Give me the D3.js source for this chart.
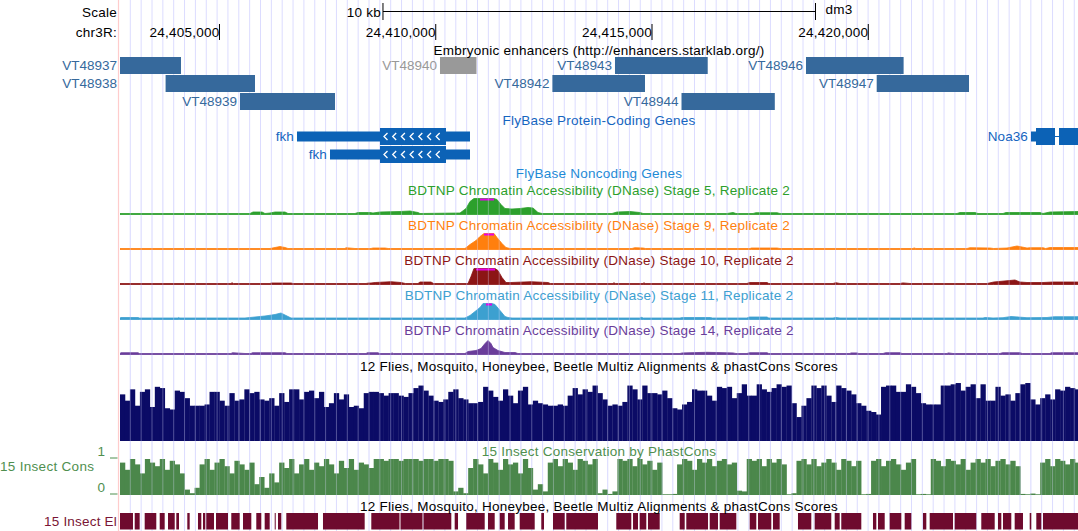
<!DOCTYPE html>
<html><head><meta charset="utf-8">
<script src="https://cdn.jsdelivr.net/npm/d3@7"></script>
<style>
html,body{margin:0;padding:0;background:#fff;}
svg{display:block;font-family:"Liberation Sans",Arial,Helvetica,sans-serif;}
</style></head><body>
<svg id="chart" width="1078" height="531"></svg>
<script>
// ---- genome window ----
const viewStart = 24402700, viewEnd = 24424849;
const chromName = "chr3R:";
const assembly = "dm3";
const rulerTicks = [24405000, 24410000, 24415000, 24420000];
const scaleBarRange = [24408780, 24418780];
const scaleBarLabel = "10 kb";

// ---- Embryonic enhancers (starklab) ----
const enhancerNames = ["VT48937","VT48938","VT48939","VT48940","VT48942","VT48943","VT48944","VT48946","VT48947"];
const enhancerStart = [24402500, 24403754, 24405474, 24410098, 24412697, 24414144, 24415682, 24418560, 24420195];
const enhancerEnd   = [24404110, 24405821, 24407671, 24410942, 24414838, 24416288, 24417839, 24420817, 24422329];
const enhancerRow   = [0, 1, 2, 0, 1, 0, 2, 0, 1];
const enhancerDim   = [false, false, false, true, false, false, false, false, false];

// ---- FlyBase protein-coding transcripts ----
const geneNames   = ["fkh", "fkh", "Noa36"];
const geneRow     = [0, 1, 0];
const geneTxStart = [24406792, 24407555, 24423762];
const geneTxEnd   = [24410792, 24410792, 24425100];
const geneCdsStart= [24408711, 24408711, 24423878];
const geneCdsEnd  = [24410237, 24410237, 24425100];
const geneExons   = [[[24406792, 24410792]], [[24407555, 24410792]], [[24423762, 24424317], [24424410, 24425100]]];
const geneStrand  = ["-", "-", "+"];

// ---- BDTNP DNase accessibility, [position, signal] ----
const dnaseTitles = [
  "BDTNP Chromatin Accessibility (DNase) Stage 5, Replicate 2",
  "BDTNP Chromatin Accessibility (DNase) Stage 9, Replicate 2",
  "BDTNP Chromatin Accessibility (DNase) Stage 10, Replicate 2",
  "BDTNP Chromatin Accessibility (DNase) Stage 11, Replicate 2",
  "BDTNP Chromatin Accessibility (DNase) Stage 14, Replicate 2"];
const dnaseColors = ["#2ca02c", "#ff7f0e", "#8c1515", "#3ca0d0", "#6a3d9a"];
const dnaseStage5 = [[24402700,1],[24405706,1],[24405775,2.5],[24405983,2.5],[24406052,1],[24406168,1.5],[24406284,2.5],[24406515,2.5],[24406584,1],[24408133,1],[24408203,2],[24408480,2],[24408549,1.5],[24408711,2.5],[24409174,3],[24409405,3.5],[24409590,2],[24409636,1],[24410561,1.5],[24410700,6],[24410792,13],[24410884,16],[24411023,17],[24411347,17],[24411416,15],[24411509,10],[24411601,6],[24411763,5.5],[24411948,6],[24412133,7],[24412249,6.5],[24412364,2],[24412457,1],[24414075,1],[24414191,2.5],[24414491,3],[24414722,2],[24414792,1],[24416734,1],[24416873,2],[24416942,1],[24417335,1],[24417404,1.8],[24417890,1.8],[24417959,1],[24422051,1],[24422121,2],[24422467,2],[24422537,1],[24423115,1],[24423185,2],[24423970,2],[24424040,1],[24424202,2.5],[24424849,3]];
const dnaseStage9 = [[24402700,1],[24406168,1],[24406284,2],[24406399,3],[24406515,2],[24406584,1],[24407902,1],[24407925,1.8],[24408133,1],[24408503,1],[24408549,1.5],[24408827,1.5],[24408900,1],[24410676,1],[24410792,5],[24410931,9],[24411023,13],[24411116,17],[24411347,17],[24411416,12],[24411532,6],[24411624,2],[24411717,1],[24414537,1],[24414600,1.8],[24414792,1.5],[24414850,1],[24417266,1],[24417300,1.5],[24417890,1.5],[24417959,1],[24421034,1],[24421060,1.6],[24421100,1],[24422282,1],[24422350,1.8],[24422814,1.5],[24422900,1],[24423208,1.5],[24423439,3.5],[24423670,1.5],[24423739,1.8],[24424040,1.8],[24424100,1],[24424202,2],[24424849,2]];
const dnaseStage10 = [[24402700,1],[24405266,1],[24405290,1.8],[24405320,1],[24406168,1],[24406200,1.5],[24406654,1.5],[24406700,1],[24408388,1],[24408450,1.5],[24408503,1.5],[24408600,2],[24408966,2.8],[24409197,2],[24409300,1],[24409590,1],[24409636,2.5],[24409890,2.5],[24409950,1],[24410746,1],[24410815,8],[24410884,16],[24410931,18],[24411370,18],[24411439,14],[24411532,7],[24411624,2],[24411740,2],[24412203,2.8],[24412595,2],[24412650,1],[24414098,1],[24414120,1.8],[24414150,1],[24414792,1],[24414810,1.8],[24414840,1],[24417196,1],[24417250,2],[24417659,2],[24417700,1],[24419185,1],[24419250,1.8],[24419346,1],[24420734,1],[24420800,1.6],[24420965,1],[24422745,1],[24422900,2.5],[24423392,4.5],[24423508,2.5],[24423670,2],[24423808,2],[24424040,2],[24424271,2.5],[24424849,2.5]];
const dnaseStage11 = [[24402700,1.5],[24402723,2],[24403116,2],[24403150,1.5],[24404041,1.5],[24404060,2],[24404080,1.5],[24405590,1.5],[24405821,2.5],[24406052,3.5],[24406284,5],[24406422,6.5],[24406538,4],[24406654,1.5],[24410676,1.5],[24410792,4],[24410908,8],[24411023,12],[24411093,16],[24411162,17],[24411300,17],[24411370,15],[24411486,9],[24411601,3],[24411671,2],[24411763,1.5],[24414722,1.5],[24414750,2.2],[24414800,1.5],[24415647,1.5],[24415700,2],[24416341,2],[24416400,1.5],[24417196,1.5],[24417250,2.5],[24417659,2.5],[24417700,1.5],[24419185,1.5],[24419250,2],[24419346,1.5],[24422653,1.5],[24422700,2],[24422884,1.5],[24423115,1.8],[24423300,3],[24423670,1.8],[24424132,2],[24424300,2.8],[24424849,2.8]];
const dnaseStage14 = [[24402700,1],[24402723,1.8],[24403116,1.8],[24403150,1],[24405266,1],[24405300,1.8],[24405590,1],[24405729,1],[24405760,1.8],[24406515,1.8],[24406560,1],[24408388,1],[24408420,1.8],[24408665,1.8],[24408700,1],[24408966,1],[24408990,1.6],[24409020,1],[24410676,1],[24410746,3],[24410931,4],[24411046,6],[24411139,11],[24411208,14],[24411277,11],[24411324,7],[24411439,4],[24411601,2],[24411833,2],[24411900,1],[24415647,1],[24415700,1.6],[24416271,2.2],[24416873,1.6],[24416942,1],[24417196,1],[24417250,1.8],[24417659,1.8],[24417700,1],[24419578,1],[24419600,1.6],[24419740,1.6],[24419780,1],[24420341,1],[24420400,1.8],[24420734,1.8],[24420780,1],[24421820,1],[24421850,1.6],[24421959,1],[24423046,1],[24423100,1.8],[24423508,1.8],[24423560,1],[24424202,1],[24424230,1.8],[24424849,1.8]];
const dnaseMax = 16;

// ---- conservation: per-bin scores (bin = 115 bp from viewStart) ----
const consBin = 115;
const multizScores = [
 .74,.64,.82,.56,.78,.82,.54,.86,.84,.52, .50,.80,.78,.68,.56,.56,.56,.58,.78,.78,
 .64,.56,.76,.64,.66,.82,.76,.78,.66,.64, .68,.56,.76,.62,.82,.82,.66,.78,.80,.68,
 .78,.54,.60,.76,.66,.74,.54,.56,.52,.76, .78,.78,.76,.72,.76,.76,.72,.70,.76,.84,
 .88,.80,.72,.64,.62,.66,.78,.82,.68,.66, .60,.60,.62,.86,.80,.70,.64,.82,.72,.60,
 .80,.86,.58,.64,.60,.58,.56,.56,.58,.56, .72,.84,.74,.82,.78,.88,.76,.66,
 .56,.58,.56,.62,.88,.82,.66,.88,.76,.76, .74,.80,.68,.52,.50,.58,.62,.82,.80,.80,
 .72,.64,.86,.84,.86,.68,.76,.90,.72,.72, .90,.82,.78,.84,.90,.86,.88,.60,.38,.56,
 .68,.88,.84,.88,.72,.62,.88,.84,.80,.74, .60,.56,.48,.46,.42,.86,.88,.88,.78,.78,
 .90,.86,.76,.60,.58,.58,.58,.88,.88,.90, .92,.80,.86,.90,.68,.90,.64,.64,.86,.72,
 .74,.64,.76,.90,.92,.66,.58,.68,.74,.66, .82,.80,.86,.84,.82,.86];
const phastConsScores = [
 .9,.7,1,.85,.6,1,.9,.8,1,.7,.95,.85,.6,
 .15,.05,.2,
 .85,1,.7,.9,1,.8,.6,.95,.85,.7,.9,
 .3,.5,.2,.6,.35,
 .9,.75,1,.6,.85,1,.7,.9,.8,1,.85,.6,.95,.75,1,.7,.9,.85,.75,
 1,1,.95,1,1,.95,1,1,1,.95,1,1,.95,1,1,.95,
 .1,.2,.05,
 .75,1,.85,.6,1,.9,.7,1,.85,.9,.6,1,.75,
 .15,.3,.1,
 .9,1,.8,1,.9,.7,1,.95,.85,1,
 .05,.15,.03,.1,
 1,.95,1,.8,1,.85,.95,.7,.9,
 .02,.02,.03,
 .85,1,.95,.7,1,.9,1,.8,.95,1,.85,.9,
 .12,.1,
 1,.95,1,.8,1,.9,1,.85,
 .02,.05,
 .95,1,.85,1,.8,.9,1,.9,.7,1,.95,.8,.95,
 .02,.03,
 .95,1,.8,.95,1,.85,.7,.9,1,
 .02,.03,.02,
 1,.95,.8,1,.95,.85,1,.7,.9,1,.9,1,.8,.95,1,.85,.95,.8,
 .03,.02,.04,.02,
 .9,1,.8,1,.95,.85,1,.9,1];
const phastConsTicks = [0, 1];

// ---- 15 insect conserved elements [start, end] ----
const consElements = [[24402600,24403000],[24403040,24403155],[24403271,24403539],[24403618,24403733],[24403810,24403965],[24404002,24404064],[24404256,24404311],[24404503,24404580],[24404619,24404672],[24404695,24404873],[24404920,24405197],[24405273,24405467],[24405544,24405736],[24405851,24405967],[24406045,24406161],[24406277,24406291],[24406353,24406429],[24406545,24407278],[24407393,24408357],[24408510,24409162],[24409185,24409694],[24409717,24410360],[24410438,24410515],[24410706,24411132],[24411208,24411363],[24411479,24411594],[24411671,24411825],[24411941,24412288],[24412440,24412503],[24412711,24412981],[24413018,24413751],[24414174,24414521],[24414561,24414676],[24414715,24414868],[24414907,24415178],[24415640,24415756],[24415793,24416295],[24416334,24416526],[24416565,24416949],[24417259,24417411],[24417451,24417758],[24417797,24417952],[24418375,24418683],[24418761,24419145],[24419224,24419339],[24419376,24419839],[24420109,24420186],[24420225,24420380],[24420495,24420764],[24420842,24420995],[24421265,24421342],[24421420,24421959],[24421998,24422498],[24422613,24422923],[24422999,24423076],[24423115,24423307],[24423385,24423577],[24423732,24423769],[24423885,24424000],[24424040,24425000]];

// ================= drawing =================
const W = 1078, H = 531, dataLeft = 120;
const svg = d3.select("#chart");
const x = d3.scaleLinear().domain([viewStart, viewEnd]).range([dataLeft, W]);
const FS = 13.5;

svg.append("defs").append("clipPath").attr("id", "dataClip")
  .append("rect").attr("x", dataLeft).attr("y", 0).attr("width", W - dataLeft).attr("height", H);

// guidelines
const guideXs = [];
for (let gx = 130.3; gx < W; gx += 10.85) guideXs.push(gx);
svg.append("g").selectAll("line").data(guideXs).join("line")
  .attr("x1", d => d).attr("x2", d => d).attr("y1", 0).attr("y2", H)
  .attr("stroke", "#dcdcff").attr("stroke-width", 1);
svg.append("line").attr("x1", 118.5).attr("x2", 118.5).attr("y1", 0).attr("y2", H)
  .attr("stroke", "#ffcccc").attr("stroke-width", 1.2);

const data = svg.append("g").attr("clip-path", "url(#dataClip)");
const text = (sel, s, tx, ty, anchor, color, spacing) =>
  sel.append("text").attr("x", tx).attr("y", ty).attr("text-anchor", anchor || "start")
     .attr("fill", color || "#000").attr("font-size", FS)
     .attr("letter-spacing", spacing == null ? 0.25 : spacing).text(s);

// ---- scale bar and base position ruler ----
text(svg, "Scale", 117, 17, "end");
text(svg, chromName, 117, 37, "end");
const sb0 = x(scaleBarRange[0]), sb1 = x(scaleBarRange[1]);
svg.append("line").attr("x1", sb0).attr("x2", sb1).attr("y1", 11.5).attr("y2", 11.5).attr("stroke", "#000");
[sb0, sb1].forEach(v => svg.append("line").attr("x1", v).attr("x2", v).attr("y1", 3).attr("y2", 20).attr("stroke", "#000"));
text(svg, scaleBarLabel, sb0 - 2, 17, "end");
text(svg, assembly, sb1 + 10, 14, "start");
const fmt = d3.format(",");
rulerTicks.forEach(t => {
  const tx = x(t);
  svg.append("line").attr("x1", tx).attr("x2", tx).attr("y1", 24).attr("y2", 40).attr("stroke", "#000");
  text(svg, fmt(t), tx, 37, "end");
});

// ---- enhancers ----
const midX = 599;
text(svg, "Embryonic enhancers (http://enhancers.starklab.org/)", midX, 54.5, "middle");
const enhBlue = "#36699c", enhGray = "#999999";
enhancerNames.forEach((name, i) => {
  const x0 = Math.max(dataLeft, x(enhancerStart[i])), x1 = x(enhancerEnd[i]);
  const top = 57 + enhancerRow[i] * 18;
  const col = enhancerDim[i] ? enhGray : enhBlue;
  data.append("rect").attr("x", x0).attr("y", top).attr("width", x1 - x0).attr("height", 17).attr("fill", col);
  let lx = x0 - 3;
  if (lx - 56 < dataLeft) lx = 117;
  text(svg, name, lx, top + 13, "end", col, 0);
});

// ---- genes ----
const geneBlue = "#0c62b6";
text(svg, "FlyBase Protein-Coding Genes", midX, 124.5, "middle", "#1565c0");
geneNames.forEach((name, i) => {
  const cy = 136.5 + geneRow[i] * 18;
  const txs = x(geneTxStart[i]);
  geneExons[i].forEach(([s, e]) => {
    data.append("rect").attr("x", x(s)).attr("y", cy - 5).attr("width", x(e) - x(s)).attr("height", 10).attr("fill", geneBlue);
    const cs = Math.max(s, geneCdsStart[i]), ce = Math.min(e, geneCdsEnd[i]);
    if (ce > cs) {
      data.append("rect").attr("x", x(cs)).attr("y", cy - 8.5).attr("width", x(ce) - x(cs)).attr("height", 17).attr("fill", geneBlue);
      const w = x(ce) - x(cs);
      if (w > 30) {
        for (let ax = x(cs) + 3.5; ax < x(ce) - 5; ax += 8.7) {
          const d = geneStrand[i] === "-" ? `M${ax + 4},${cy - 3.5}L${ax + 0.5},${cy}L${ax + 4},${cy + 3.5}`
                                          : `M${ax},${cy - 3.5}L${ax + 3.5},${cy}L${ax},${cy + 3.5}`;
          data.append("path").attr("d", d).attr("fill", "none").attr("stroke", "#fff").attr("stroke-width", 1.3);
        }
      }
    }
  });
  for (let k = 1; k < geneExons[i].length; k++) {
    data.append("line").attr("x1", x(geneExons[i][k - 1][1])).attr("x2", x(geneExons[i][k][0]))
      .attr("y1", cy).attr("y2", cy).attr("stroke", geneBlue);
  }
  text(svg, name, txs - 3, cy + 4.5, "end", "#1565c0", 0.1);
});
text(svg, "FlyBase Noncoding Genes", midX, 177.5, "middle", "#1e8ad6");

// ---- DNase tracks ----
const dnaseData = [dnaseStage5, dnaseStage9, dnaseStage10, dnaseStage11, dnaseStage14];
dnaseData.forEach((pts, k) => {
  const base = 214.5 + k * 35;
  const y = d3.scaleLinear().domain([0, dnaseMax]).range([base, base - 16]).clamp(true);
  text(svg, dnaseTitles[k], midX, base - 20, "middle", dnaseColors[k]);
  const area = d3.area().x(d => x(d[0])).y0(base).y1(d => y(d[1]));
  data.append("path").attr("d", area(pts)).attr("fill", dnaseColors[k])
    .attr("stroke", dnaseColors[k]).attr("stroke-width", 0.8).attr("stroke-linejoin", "round");
  for (let j = 1; j < pts.length; j++) {
    if (pts[j - 1][1] > dnaseMax && pts[j][1] > dnaseMax) {
      data.append("rect").attr("x", x(pts[j - 1][0])).attr("y", base - 16)
        .attr("width", x(pts[j][0]) - x(pts[j - 1][0])).attr("height", 2).attr("fill", "#e600e6");
    }
  }
});

// ---- Multiz conservation ----
const consTitle = "12 Flies, Mosquito, Honeybee, Beetle Multiz Alignments & phastCons Scores";
text(svg, consTitle, midX, 370.5, "middle");
const yMz = d3.scaleLinear().domain([0, 1]).range([441, 378]);
data.append("g").selectAll("rect").data(multizScores).join("rect")
  .attr("x", (d, i) => x(viewStart + i * consBin))
  .attr("width", (d, i) => x(viewStart + (i + 1) * consBin) - x(viewStart + i * consBin) + 0.3)
  .attr("y", d => yMz(d)).attr("height", d => 441 - yMz(d)).attr("fill", "#0b0b66");

// ---- PhastCons ----
const consGreen = "#4b874b";
text(svg, "15 Insect Conservation by PhastCons", midX, 455.5, "middle", "#4f8f4f");
const yPc = d3.scaleLinear().domain([0, 1]).range([495, 459]);
data.append("g").selectAll("rect").data(phastConsScores).join("rect")
  .attr("x", (d, i) => x(viewStart + i * consBin))
  .attr("width", (d, i) => x(viewStart + (i + 1) * consBin) - x(viewStart + i * consBin) + 0.3)
  .attr("y", d => yPc(d)).attr("height", d => 495 - yPc(d)).attr("fill", consGreen);
text(svg, "15 Insect Cons", 0, 470.5, "start", "#4f8f4f", 0.3);
phastConsTicks.forEach(t => {
  const ty = yPc(t) - 1;
  text(svg, String(t), 105, ty - 2, "end", "#4f8f4f", 0);
  svg.append("line").attr("x1", 110).attr("x2", 117.5).attr("y1", ty).attr("y2", ty).attr("stroke", "#4f8f4f");
});

// ---- conserved elements ----
text(svg, consTitle, midX, 510.5, "middle");
data.append("g").selectAll("rect").data(consElements).join("rect")
  .attr("x", d => x(d[0])).attr("width", d => Math.max(1, x(d[1]) - x(d[0])))
  .attr("y", 513).attr("height", 16.5).attr("fill", "#6e0a2e");
text(svg, "15 Insect El", 117, 526, "end", "#7a1535", 0.2);

// guidelines show faintly through the signal tracks
data.append("g").selectAll("line").data(guideXs).join("line")
  .attr("x1", d => d).attr("x2", d => d).attr("y1", 190).attr("y2", 496)
  .attr("stroke", "#dcdcff").attr("stroke-opacity", 0.35).attr("stroke-width", 1);
svg.selectAll("text").raise();
</script>
</body></html>
